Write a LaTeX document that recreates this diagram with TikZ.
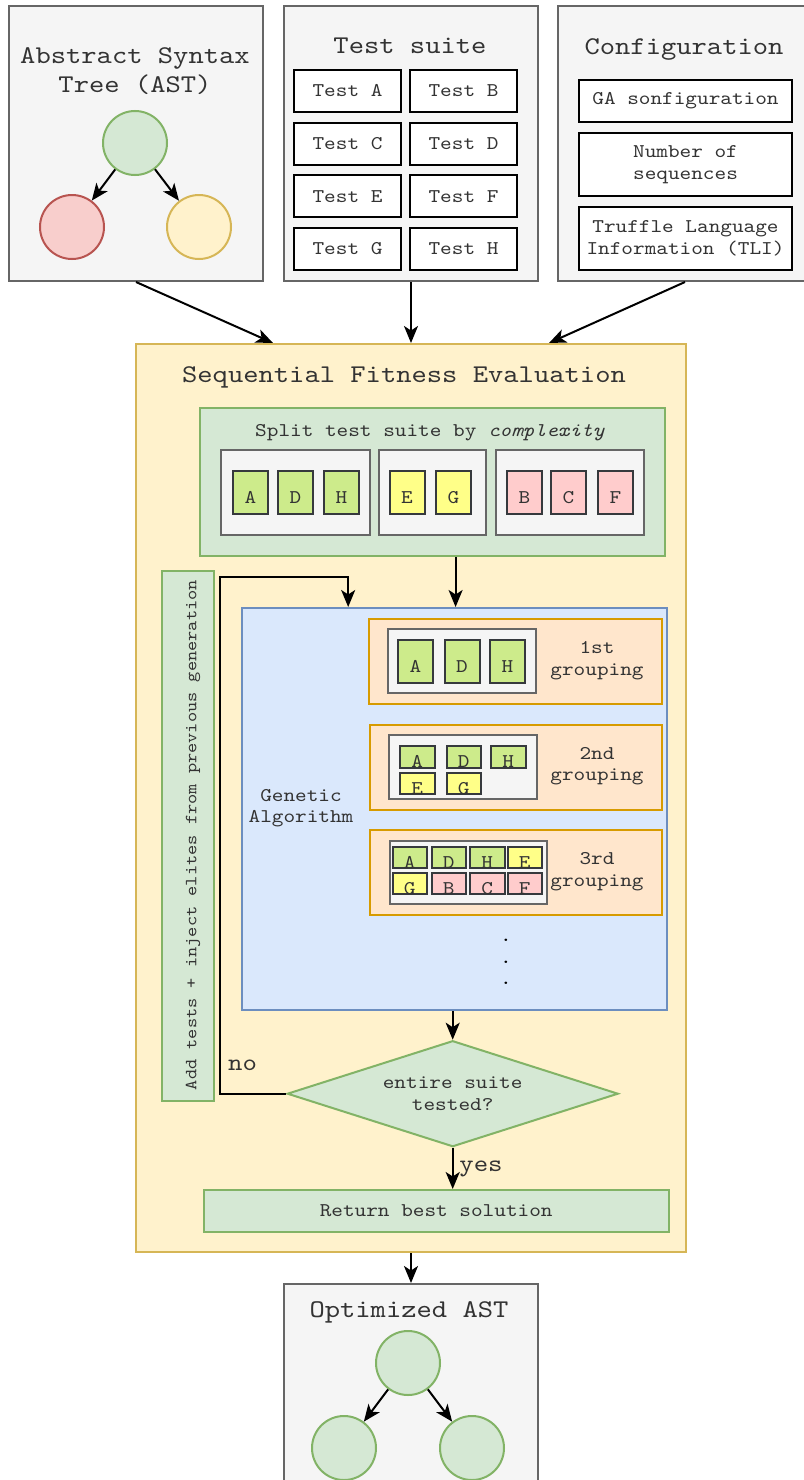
\documentclass[tikz,border=0pt]{standalone}
\usepackage{fontspec}
\setmainfont[FakeStretch=1.143, ItalicFont=lmmono10-italic.otf]{lmmono10-regular.otf}
\usetikzlibrary{arrows.meta,shapes.geometric,calc}
\definecolor{grayF}{HTML}{F5F5F5}
\definecolor{grayD}{HTML}{666666}
\definecolor{greenF}{HTML}{D5E8D4}
\definecolor{greenD}{HTML}{82B366}
\definecolor{redF}{HTML}{F8CECC}
\definecolor{redD}{HTML}{B85450}
\definecolor{yelF}{HTML}{FFF2CC}
\definecolor{yelD}{HTML}{D6B656}
\definecolor{blueF}{HTML}{DAE8FC}
\definecolor{blueD}{HTML}{6C8EBF}
\definecolor{oraF}{HTML}{FFE6CC}
\definecolor{oraD}{HTML}{D79B00}
\definecolor{tG}{HTML}{CDEB8B}
\definecolor{tY}{HTML}{FFFF88}
\definecolor{tP}{HTML}{FFCCCC}
\definecolor{tD}{HTML}{36393D}
\definecolor{txt}{HTML}{333333}
\newcommand{\mf}{\fontsize{19.4}{21.5}\selectfont}
\newcommand{\tf}{\fontsize{25.5}{29}\selectfont}
\newcommand{\vf}{\fontsize{17}{20}\selectfont}
\newcommand{\bigf}{\fontsize{24}{26}\selectfont}
\begin{document}
\begin{tikzpicture}[x=1pt,y=-1pt,
  box/.style={rectangle, draw, line width=2pt, inner sep=0pt, anchor=north west, text=txt, font=\mf, align=center},
  gbox/.style={box, fill=grayF, draw=grayD},
  tbox/.style={box, fill=white, draw=black},
  tc/.style={box, draw=tD, fill=#1},
  ttl/.style={text=txt, font=\tf, align=center, inner sep=0pt},
  lbl/.style={text=txt, font=\mf, align=center, inner sep=0pt},
  ltr/.style={label={[text=txt,font=\mf,yshift=-5pt,inner sep=0pt]center:#1}},
  arr/.style={draw=black, line width=2pt, -{Stealth[length=17pt,width=14pt,inset=4.5pt]}},
  circ/.style={circle, minimum size=64pt, inner sep=0pt, line width=2pt},
]
\useasboundingbox (0,0) rectangle (803,1480);
\fill[white] (0,0) rectangle (803,1480);

% ---------- AST ----------
\node[gbox, minimum width=254pt, minimum height=275pt] (ast) at (8,5) {};
\node[ttl] (astt) at (135,71) {Abstract Syntax\\Tree (AST)};
\node[circ, draw=greenD, fill=greenF] (ar) at (135,143) {};
\node[circ, draw=redD, fill=redF] (al) at (72,227) {};
\node[circ, draw=yelD, fill=yelF] (ay) at (199,227) {};
\draw[arr] (ar) -- (al);
\draw[arr] (ar) -- (ay);

% ---------- Test suite ----------
\node[gbox, minimum width=254pt, minimum height=275pt] (ts) at (283,5) {};
\node[ttl] (tst) at (410,46) {Test suite};
\node[tbox, minimum width=107pt, minimum height=42pt] (tA) at (293,69) {Test A};
\node[tbox, minimum width=107pt, minimum height=42pt] (tB) at (409,69) {Test B};
\node[tbox, minimum width=107pt, minimum height=42pt] (tC) at (293,121.7) {Test C};
\node[tbox, minimum width=107pt, minimum height=42pt] (tDD) at (409,121.7) {Test D};
\node[tbox, minimum width=107pt, minimum height=42pt] (tE) at (293,174.3) {Test E};
\node[tbox, minimum width=107pt, minimum height=42pt] (tF) at (409,174.3) {Test F};
\node[tbox, minimum width=107pt, minimum height=42pt] (tGG) at (293,227) {Test G};
\node[tbox, minimum width=107pt, minimum height=42pt] (tH) at (409,227) {Test H};

% ---------- Configuration ----------
\node[gbox, minimum width=254pt, minimum height=275pt] (cfg) at (557,5) {};
\node[ttl] (cfgt) at (684,49) {Configuration};
\node[tbox, minimum width=213pt, minimum height=42pt] (cGA) at (578,79) {GA sonfiguration};
\node[tbox, minimum width=213pt, minimum height=63pt] (cN) at (578,132) {Number of\\sequences};
\node[tbox, minimum width=213pt, minimum height=63pt] (cT) at (578,206) {Truffle Language\\Information (TLI)};

% ---------- Sequential Fitness Evaluation ----------
\node[box, fill=yelF, draw=yelD, minimum width=550pt, minimum height=908pt] (sfe) at (135,343) {};
\node[ttl] (sfet) at (404,377) {Sequential Fitness Evaluation};

\draw[arr] (ast.south) -- ($(sfe.north west)!0.25!(sfe.north east)$);
\draw[arr] (ts.south) -- (sfe.north);
\draw[arr] (cfg.south) -- ($(sfe.north west)!0.75!(sfe.north east)$);

% split box
\node[box, fill=greenF, draw=greenD, minimum width=465pt, minimum height=148pt] (split) at (198.5,407) {};
\node[lbl] (splitt) at (430,433) {Split test suite by \textit{complexity}};
\node[gbox, minimum width=149pt, minimum height=85pt] (g1) at (219.5,449) {};
\node[gbox, minimum width=106.5pt, minimum height=85pt] (g2) at (378,449) {};
\node[gbox, minimum width=148pt, minimum height=85pt] (g3) at (494.5,449) {};
\node[tc=tG, ltr=A, minimum width=35pt, minimum height=42.5pt] (sA) at (232,470) {};
\node[tc=tG, ltr=D, minimum width=35pt, minimum height=42.5pt] (sD) at (277,470) {};
\node[tc=tG, ltr=H, minimum width=35pt, minimum height=42.5pt] (sH) at (323,470) {};
\node[tc=tY, ltr=E, minimum width=35pt, minimum height=42.5pt] (sE) at (388.5,470) {};
\node[tc=tY, ltr=G, minimum width=35pt, minimum height=42.5pt] (sG) at (435,470) {};
\node[tc=tP, ltr=B, minimum width=35pt, minimum height=42.5pt] (sB) at (506,470) {};
\node[tc=tP, ltr=C, minimum width=35pt, minimum height=42.5pt] (sC) at (550,470) {};
\node[tc=tP, ltr=F, minimum width=35pt, minimum height=42.5pt] (sF) at (597,470) {};

% vertical box
\node[box, fill=greenF, draw=greenD, minimum width=52pt, minimum height=530pt] (vert) at (161,570) {};
\node[text=txt, font=\vf, inner sep=0pt, rotate=90] (vtxt) at (193,835) {Add tests + inject elites from previous generation};

% GA
\node[box, fill=blueF, draw=blueD, minimum width=425pt, minimum height=402pt] (ga) at (241,607) {};
\node[lbl] (gat) at (301,808) {Genetic\\Algorithm};
\coordinate (splitout) at ($(split.south west)!0.5505!(split.south east)$);
\draw[arr] (splitout) -- (splitout |- ga.north);

% grouping 1
\node[box, fill=oraF, draw=oraD, minimum width=293pt, minimum height=84.5pt] (gr1) at (367.5,618) {};
\node[gbox, minimum width=148pt, minimum height=64pt] (i1) at (387,628) {};
\node[tc=tG, ltr=A, minimum width=35pt, minimum height=43pt] (aA) at (397,639) {};
\node[tc=tG, ltr=D, minimum width=35pt, minimum height=43pt] (aD) at (443.5,639) {};
\node[tc=tG, ltr=H, minimum width=35pt, minimum height=43pt] (aH) at (489,639) {};
\node[lbl] (gr1t) at (597,660.5) {1st\\grouping};

% grouping 2
\node[box, fill=oraF, draw=oraD, minimum width=292pt, minimum height=84.5pt] (gr2) at (369,724) {};
\node[gbox, minimum width=148pt, minimum height=64pt] (i2) at (388,734) {};
\node[tc=tG, ltr=A, minimum width=34.5pt, minimum height=21.5pt] (bA) at (399,745) {};
\node[tc=tG, ltr=D, minimum width=34.5pt, minimum height=21.5pt] (bD) at (445.5,745) {};
\node[tc=tG, ltr=H, minimum width=34.5pt, minimum height=21.5pt] (bH) at (490,745) {};
\node[tc=tY, ltr=E, minimum width=34.5pt, minimum height=21.5pt] (bE) at (399,771.5) {};
\node[tc=tY, ltr=G, minimum width=34.5pt, minimum height=21.5pt] (bG) at (445.5,771.5) {};
\node[lbl] (gr2t) at (597,766) {2nd\\grouping};

% grouping 3
\node[box, fill=oraF, draw=oraD, minimum width=292pt, minimum height=85pt] (gr3) at (369,829) {};
\node[gbox, minimum width=157pt, minimum height=63pt] (i3) at (389,840) {};
\node[tc=tG, ltr=A, minimum width=34.5pt, minimum height=21.5pt] (cA) at (391.5,845.5) {};
\node[tc=tG, ltr=D, minimum width=34.5pt, minimum height=21.5pt] (cD) at (430.5,845.5) {};
\node[tc=tG, ltr=H, minimum width=34.5pt, minimum height=21.5pt] (cH) at (469,845.5) {};
\node[tc=tY, ltr=E, minimum width=34.5pt, minimum height=21.5pt] (cE) at (506.5,845.5) {};
\node[tc=tY, ltr=G, minimum width=34.5pt, minimum height=21.5pt] (cG) at (391.5,871.5) {};
\node[tc=tP, ltr=B, minimum width=34.5pt, minimum height=21.5pt] (cB) at (430.5,871.5) {};
\node[tc=tP, ltr=C, minimum width=34.5pt, minimum height=21.5pt] (cC) at (469,871.5) {};
\node[tc=tP, ltr=F, minimum width=34.5pt, minimum height=21.5pt] (cF) at (506.5,871.5) {};
\node[lbl] (gr3t) at (597,871.5) {3rd\\grouping};

% dots
\node[text=black, font=\mf, inner sep=0pt, anchor=base] (dot1) at (506,941) {.};
\node[text=black, font=\mf, inner sep=0pt, anchor=base] (dot2) at (506,963) {.};
\node[text=black, font=\mf, inner sep=0pt, anchor=base] (dot3) at (506,984) {.};

% decision
\node[diamond, draw=greenD, fill=greenF, line width=2pt, inner sep=0pt, aspect=3.13,
      minimum width=331pt, minimum height=106pt, text=txt, font=\mf, align=center] (dia) at (452.7,1093.7) {entire suite\\tested?};
\draw[arr] (ga.south -| dia.north) -- (dia.north);

% loop back
\coordinate (lx) at (220,576.7);
\draw[arr] (dia.west) -| (lx) -| ($(ga.north west)!0.251!(ga.north east)$);
\node[text=txt, font=\bigf, inner sep=0pt] (no) at (242.5,1065) {no};

% return
\node[box, fill=greenF, draw=greenD, minimum width=465pt, minimum height=42pt] (ret) at (202.7,1189) {Return best solution};
\draw[arr] (dia.south) -- (dia.south |- ret.north);
\node[text=txt, font=\bigf, inner sep=0pt] (yes) at (481,1169) {yes};

% ---------- Optimized AST ----------
\node[gbox, minimum width=254pt, minimum height=198pt] (oast) at (283,1283) {};
\node[ttl] (oastt) at (409,1312) {Optimized AST};
\draw[arr] (sfe.south) -- (oast.north);
\node[circ, draw=greenD, fill=greenF] (or) at (408,1363) {};
\node[circ, draw=greenD, fill=greenF] (ol) at (344,1448) {};
\node[circ, draw=greenD, fill=greenF] (oy) at (472,1448) {};
\draw[arr] (or) -- (ol);
\draw[arr] (or) -- (oy);
\end{tikzpicture}
\end{document}
